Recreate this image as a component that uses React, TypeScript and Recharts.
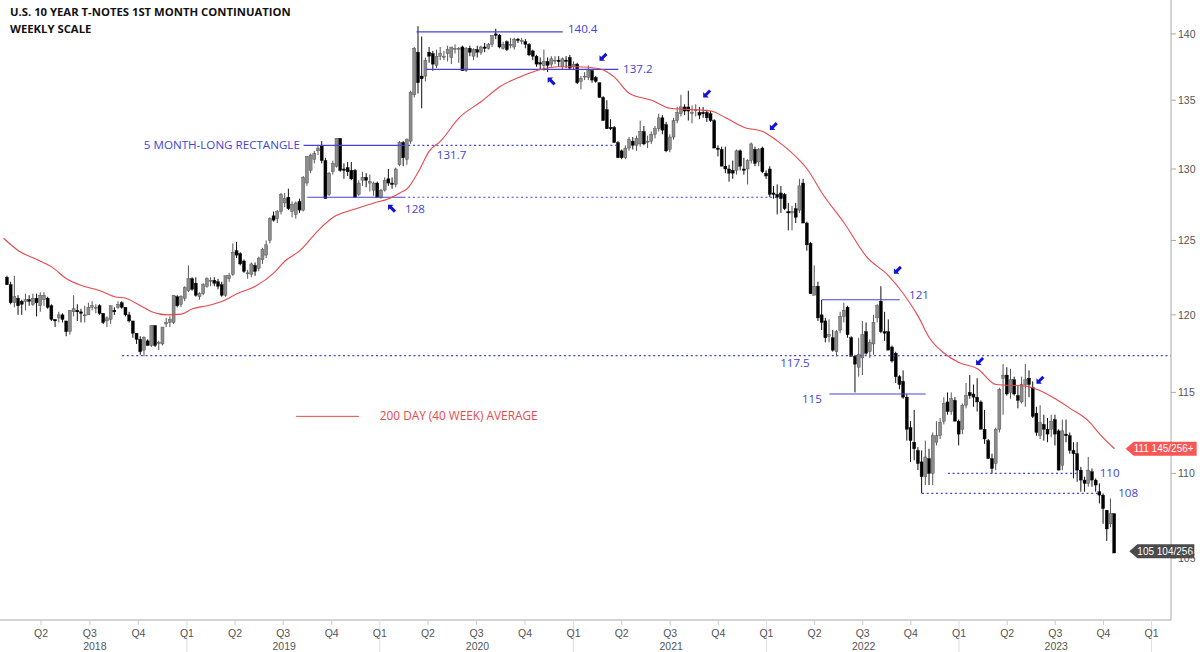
import { ComposedChart, Bar, Line, XAxis, YAxis, ReferenceLine, ReferenceDot } from 'recharts'

type Ohlc = [number, number, number, number] // open, high, low, close

// weekly candles
const candles2018: Ohlc[] = [
  [122.5, 122.6, 122.0, 122.0], [122.0, 122.2, 120.7, 120.8], [120.8, 122.6, 120.5, 121.2], [121.1, 121.3, 120.0, 120.6],
  [120.9, 121.0, 120.0, 120.7], [120.9, 121.4, 120.3, 121.0], [121.0, 121.3, 120.6, 120.9], [120.7, 121.4, 120.6, 121.1],
  [121.1, 121.4, 119.9, 120.8], [120.6, 121.5, 120.2, 121.3], [121.0, 121.5, 120.6, 121.3], [121.1, 121.2, 120.4, 120.5],
  [120.6, 120.7, 119.6, 119.7], [119.7, 119.7, 119.2, 119.6], [119.8, 120.2, 119.5, 120.0], [120.0, 120.1, 119.5, 119.7],
  [119.6, 119.6, 118.6, 118.9], [118.9, 120.3, 118.7, 120.3], [120.2, 121.3, 119.9, 120.4], [120.3, 120.7, 119.6, 120.2],
  [120.2, 120.4, 119.5, 120.1], [120.0, 120.6, 119.5, 120.0], [120.0, 120.8, 120.0, 120.5], [120.5, 120.9, 120.3, 120.6],
  [120.5, 120.7, 120.1, 120.5], [120.6, 120.7, 120.0, 120.1], [120.1, 120.1, 119.4, 119.5], [119.6, 119.9, 119.2, 119.8],
  [119.7, 120.6, 119.4, 120.6], [120.3, 120.5, 120.0, 120.2], [120.5, 120.9, 120.4, 120.7], [120.8, 120.9, 120.4, 120.5],
  [120.5, 120.5, 119.9, 120.0], [120.0, 120.2, 119.5, 119.6], [119.6, 119.6, 118.5, 118.8], [118.8, 118.8, 118.1, 118.4],
  [118.4, 118.6, 117.4, 117.6], [117.7, 118.6, 117.3, 118.5], [118.3, 118.4, 118.0, 118.0], [118.0, 119.3, 117.9, 119.3],
  [119.3, 119.3, 117.9, 118.0], [118.2, 118.3, 117.7, 118.2], [118.1, 119.2, 118.0, 119.2], [119.4, 119.8, 119.2, 119.5],
  [119.5, 119.9, 119.2, 119.7], [119.5, 121.3, 119.4, 121.3], [121.2, 121.3, 120.5, 120.6], [120.7, 121.3, 120.5, 121.2],
]
const candles2019: Ohlc[] = [
  [121.1, 121.9, 120.9, 121.8], [121.6, 123.3, 121.5, 122.4], [122.4, 122.5, 121.6, 121.7], [122.1, 122.5, 121.2, 121.3],
  [121.2, 121.5, 121.0, 121.4], [121.4, 122.1, 121.3, 122.0], [121.9, 122.5, 121.8, 122.4], [122.3, 122.5, 121.9, 122.3],
  [122.3, 122.5, 121.9, 122.1], [122.2, 122.4, 121.7, 121.9], [122.0, 122.2, 121.2, 121.3], [121.3, 122.6, 121.2, 122.6],
  [122.4, 122.8, 122.2, 122.6], [122.7, 124.8, 122.6, 124.2], [124.3, 124.9, 123.8, 124.0], [124.1, 124.2, 123.3, 123.4],
  [123.6, 123.7, 122.8, 122.9], [122.8, 123.0, 122.4, 122.8], [122.7, 123.5, 122.5, 123.4], [123.3, 123.5, 122.6, 122.9],
  [123.1, 123.9, 122.9, 123.8], [123.7, 124.5, 123.4, 124.4], [124.0, 125.0, 123.8, 124.7], [125.0, 126.6, 124.8, 126.5],
  [126.7, 127.0, 126.3, 126.4], [126.5, 127.1, 126.2, 127.0], [127.0, 128.3, 126.8, 128.2], [127.6, 128.3, 127.3, 127.9],
  [128.0, 128.6, 127.1, 127.2], [127.0, 127.7, 126.6, 127.5], [126.8, 127.7, 126.5, 127.6], [127.7, 127.9, 126.9, 127.1],
  [127.1, 129.5, 127.0, 129.4], [129.0, 130.9, 128.8, 130.9], [129.9, 131.1, 129.7, 131.0], [130.7, 131.3, 130.4, 131.1],
  [131.3, 131.7, 131.0, 131.5], [131.7, 132.0, 130.4, 130.6], [130.6, 130.8, 127.9, 127.9], [128.2, 129.8, 128.1, 129.7],
  [129.8, 130.6, 129.6, 130.4], [130.2, 132.2, 130.1, 132.2], [132.2, 132.2, 129.8, 129.9], [130.0, 130.4, 129.3, 129.9],
  [130.1, 130.5, 129.5, 129.8], [129.9, 130.5, 129.2, 129.3], [129.9, 130.0, 128.0, 128.0], [128.2, 129.2, 128.1, 129.0],
  [129.2, 129.8, 128.8, 129.4], [129.4, 129.7, 128.7, 129.2],
]
const candles2020: Ohlc[] = [
  [129.0, 129.6, 128.4, 129.1], [128.5, 129.1, 128.1, 129.0], [129.0, 129.1, 128.0, 128.0], [128.0, 128.6, 127.9, 128.5],
  [128.5, 129.4, 128.4, 129.2], [129.3, 130.0, 128.8, 129.0], [129.0, 129.4, 128.6, 128.9], [128.9, 130.1, 128.7, 130.0],
  [130.3, 132.0, 130.2, 131.9], [131.9, 132.0, 130.2, 130.8], [130.7, 132.2, 130.3, 132.1], [132.0, 135.7, 131.8, 135.6],
  [135.4, 139.0, 135.2, 138.9], [138.6, 140.6, 135.5, 136.3], [136.8, 139.8, 134.4, 136.6], [136.8, 138.2, 136.4, 138.0],
  [138.6, 139.0, 137.8, 138.3], [138.5, 138.7, 137.2, 137.7], [137.6, 138.8, 137.4, 138.3], [138.3, 139.0, 138.0, 138.5],
  [138.3, 138.7, 138.0, 138.3], [138.5, 139.1, 137.9, 138.8], [138.2, 139.0, 137.7, 139.0], [138.9, 139.2, 138.5, 138.9],
  [138.9, 139.0, 137.8, 138.9], [139.0, 139.1, 137.2, 137.2], [137.2, 139.0, 137.1, 138.9], [138.9, 139.1, 138.3, 138.6],
  [138.3, 138.9, 138.0, 138.8], [138.8, 139.1, 138.2, 138.6], [138.6, 139.1, 138.4, 139.0], [139.0, 139.3, 138.6, 138.9],
  [138.9, 139.3, 138.8, 139.2], [139.2, 139.9, 139.0, 139.9], [140.0, 140.4, 139.6, 139.9], [139.9, 140.0, 138.9, 139.0],
  [138.9, 139.4, 138.8, 139.2], [139.4, 139.5, 138.7, 138.8], [139.2, 139.7, 138.9, 139.2], [139.0, 139.7, 138.8, 139.6],
  [139.6, 139.7, 139.3, 139.5], [139.5, 139.7, 139.2, 139.5], [139.4, 139.6, 138.9, 139.2], [139.2, 139.3, 138.3, 138.4],
  [138.7, 138.8, 138.0, 138.3], [138.3, 138.4, 137.5, 137.7], [137.8, 138.2, 137.3, 137.7], [137.6, 138.8, 137.2, 137.9],
  [137.9, 138.2, 137.1, 137.6], [137.7, 138.3, 137.5, 138.1], [138.0, 138.3, 137.7, 138.0], [138.0, 138.3, 137.5, 137.9],
]
const candles2021: Ohlc[] = [
  [137.5, 138.2, 137.3, 138.1], [138.0, 138.3, 137.4, 137.9], [138.2, 138.4, 137.3, 137.4], [137.5, 137.9, 137.3, 137.7],
  [137.7, 137.8, 136.2, 136.3], [136.4, 136.8, 135.8, 136.6], [136.8, 137.1, 136.5, 136.8], [136.7, 137.6, 136.5, 137.2],
  [137.2, 137.3, 136.3, 136.5], [136.7, 136.8, 136.3, 136.4], [136.3, 136.3, 135.2, 135.2], [135.2, 135.3, 133.5, 133.5],
  [134.3, 135.0, 132.9, 132.9], [133.0, 133.6, 132.8, 132.9], [133.0, 133.1, 131.9, 131.9], [131.9, 132.0, 130.8, 130.8],
  [131.3, 131.4, 130.7, 130.8], [130.8, 131.7, 130.7, 131.5], [131.5, 132.3, 131.3, 132.1], [132.0, 132.3, 131.4, 131.7],
  [131.7, 132.4, 131.3, 132.2], [131.8, 133.5, 131.6, 132.7], [132.7, 133.1, 131.7, 131.8], [132.0, 132.4, 131.5, 132.0],
  [132.0, 132.7, 131.8, 132.5], [132.5, 133.1, 132.2, 132.9], [132.9, 134.0, 132.7, 133.7], [133.7, 133.9, 132.5, 132.8],
  [133.2, 133.4, 131.2, 131.3], [131.4, 132.5, 131.2, 132.3], [132.3, 133.7, 132.1, 133.5], [133.5, 134.5, 133.3, 134.1],
  [134.0, 135.4, 133.8, 134.5], [134.5, 134.7, 133.9, 134.2], [134.5, 135.7, 133.5, 134.2], [134.1, 134.6, 133.3, 134.1],
  [134.3, 134.7, 133.8, 134.3], [134.1, 134.5, 133.6, 133.9], [134.1, 134.5, 133.7, 134.0], [134.1, 134.3, 133.4, 133.7],
  [134.0, 134.2, 133.4, 133.5], [133.5, 133.6, 131.5, 131.5], [131.5, 131.7, 130.9, 131.4], [131.4, 131.6, 130.2, 130.2],
  [130.2, 131.6, 129.7, 130.0], [130.0, 130.3, 129.1, 129.7], [129.9, 130.6, 129.3, 129.7], [129.9, 131.4, 129.6, 131.3],
  [131.3, 131.4, 129.9, 130.2], [130.0, 130.8, 129.6, 129.9], [130.0, 130.7, 128.9, 130.6], [130.6, 131.9, 130.4, 131.8],
]
const candles2022: Ohlc[] = [
  [131.4, 131.6, 130.2, 130.4], [130.5, 131.5, 130.2, 131.4], [131.5, 131.6, 129.7, 129.8], [129.7, 129.9, 129.3, 129.5],
  [130.0, 130.2, 128.0, 128.2], [128.3, 128.8, 127.9, 128.2], [128.2, 128.9, 126.8, 128.0], [128.3, 128.8, 126.9, 127.9],
  [128.2, 128.3, 127.1, 127.2], [127.0, 127.6, 125.7, 126.9], [126.9, 127.4, 125.7, 127.0], [127.2, 127.6, 126.2, 126.6],
  [127.1, 129.3, 126.9, 128.8], [129.0, 129.3, 126.2, 126.2], [126.2, 126.3, 124.3, 124.7], [124.8, 124.9, 121.4, 121.4],
  [121.3, 123.3, 121.3, 121.9], [121.9, 122.2, 119.6, 119.8], [120.0, 121.0, 119.0, 119.5], [119.6, 119.8, 118.2, 118.5],
  [118.6, 119.7, 118.2, 118.7], [118.5, 119.0, 117.6, 117.7], [117.6, 119.0, 117.3, 118.9], [119.0, 120.2, 118.8, 119.9],
  [119.9, 120.8, 119.5, 120.3], [120.5, 120.6, 118.5, 118.7], [118.5, 118.6, 117.3, 117.3], [117.3, 117.4, 115.0, 116.8],
  [116.6, 118.5, 116.0, 117.4], [117.2, 119.6, 116.1, 118.7], [118.9, 119.5, 117.4, 117.5], [117.6, 118.4, 117.2, 118.2],
  [118.1, 120.0, 117.4, 119.5], [119.8, 120.7, 119.5, 120.6], [120.9, 121.9, 118.8, 118.9], [118.9, 120.2, 118.3, 118.8],
  [118.9, 119.7, 117.7, 117.7], [117.9, 118.0, 116.9, 117.0], [117.5, 117.6, 115.6, 116.0], [116.0, 116.1, 115.2, 115.5],
  [115.7, 116.4, 114.6, 114.7], [114.7, 114.9, 112.0, 112.7], [112.8, 113.2, 110.7, 112.0], [111.9, 113.9, 110.8, 111.5],
  [111.4, 111.6, 110.2, 110.6], [110.7, 111.4, 108.8, 109.8], [109.8, 112.0, 109.3, 111.0], [110.9, 111.5, 109.3, 110.0],
  [110.0, 112.5, 109.3, 112.3], [111.9, 113.2, 111.7, 112.3], [112.3, 113.4, 112.1, 113.1], [113.2, 114.7, 113.0, 114.3],
]
const candles2023: Ohlc[] = [
  [114.4, 115.0, 113.6, 113.8], [113.8, 115.0, 113.6, 114.6], [114.5, 114.7, 113.2, 113.2], [113.2, 113.3, 111.7, 112.4],
  [112.7, 114.3, 112.4, 114.2], [114.2, 115.6, 114.0, 114.8], [115.0, 116.1, 114.6, 114.8], [114.9, 115.5, 114.1, 114.7],
  [114.7, 115.9, 113.8, 114.4], [114.4, 114.5, 112.7, 112.7], [112.7, 113.9, 111.8, 112.1], [112.0, 112.1, 110.9, 110.9],
  [110.9, 111.2, 110.0, 110.3], [110.6, 112.8, 110.2, 112.7], [112.7, 115.3, 112.5, 115.2], [115.9, 116.8, 113.6, 116.1],
  [116.1, 116.6, 114.8, 114.9], [115.0, 116.5, 114.6, 115.8], [115.8, 116.0, 114.8, 114.9], [114.8, 115.4, 114.0, 114.5],
  [114.4, 116.0, 114.3, 115.5], [115.5, 116.8, 114.1, 115.8], [115.9, 116.4, 114.7, 115.5], [115.3, 115.7, 113.4, 113.5],
  [113.7, 114.1, 112.3, 112.5], [112.3, 114.2, 112.1, 113.1], [113.0, 113.6, 112.0, 112.7], [112.7, 113.4, 111.9, 112.4],
  [112.7, 113.6, 112.2, 113.2], [113.3, 113.6, 111.7, 112.4], [112.6, 112.7, 110.2, 110.2], [110.5, 113.3, 110.2, 112.6],
  [112.4, 113.3, 111.9, 112.3], [112.3, 112.5, 111.2, 111.4], [111.4, 111.9, 109.7, 111.2], [111.2, 111.9, 109.5, 110.2],
  [110.2, 110.4, 108.9, 109.6], [109.6, 109.8, 108.9, 109.4], [109.4, 111.0, 109.2, 110.2], [110.1, 110.3, 109.2, 109.6],
  [109.6, 109.7, 108.9, 109.3], [108.9, 109.4, 108.2, 108.7], [108.7, 108.8, 107.0, 107.9], [107.8, 107.8, 106.0, 106.7],
  [107.0, 108.5, 106.8, 107.6], [107.6, 107.6, 105.3, 105.3],
]

const maWeeks = [-1, 3, 8, 12, 16, 20, 25, 29, 32, 36, 39, 43, 47, 50, 54, 59, 62, 67, 72, 75, 79, 84, 88, 93, 99, 103, 106, 108, 111, 114, 117, 122, 128, 133, 139, 144, 149, 154, 160, 164, 168, 174, 179, 190, 194, 199, 204, 208, 214, 216, 220, 226, 232, 238, 242, 246, 249, 253, 257, 262, 267, 275, 278, 283, 287, 292, 295, 299]
const maValues = [125.15, 124.3, 123.7, 123.2, 122.4, 121.95, 121.6, 121.2, 121.1, 120.6, 120.2, 120.0, 120.05, 120.4, 120.6, 121.0, 121.4, 121.9, 122.8, 123.6, 124.3, 125.7, 126.6, 127.1, 127.6, 127.9, 128.3, 128.6, 129.8, 131.3, 132.0, 133.7, 134.9, 136.0, 136.8, 137.3, 137.5, 137.5, 137.35, 136.7, 135.5, 135.0, 134.4, 134.2, 133.7, 133.0, 132.7, 132.0, 130.6, 130.0, 128.3, 126.2, 123.9, 122.6, 121.4, 119.9, 118.5, 117.5, 116.9, 116.5, 115.5, 115.4, 115.2, 114.6, 114.0, 113.2, 112.4, 111.5]

const priceTicks = [105, 110, 115, 120, 125, 130, 135, 140]
const quarterWeeks = [9.1, 22.3, 35.4, 48.5, 61.5, 74.5, 87.6, 100.6, 113.6, 126.7, 139.8, 152.9, 165.9, 179, 192, 205, 218, 231, 244, 257, 270, 283, 296, 309]
const quarterLabels = ['Q2', 'Q3', 'Q4', 'Q1', 'Q2', 'Q3', 'Q4', 'Q1', 'Q2', 'Q3', 'Q4', 'Q1', 'Q2', 'Q3', 'Q4', 'Q1', 'Q2', 'Q3', 'Q4', 'Q1', 'Q2', 'Q3', 'Q4', 'Q1']
const yearLabels: Record<number, string> = { 1: '2018', 5: '2019', 9: '2020', 13: '2021', 17: '2022', 21: '2023' }

// [from week, to week, price]
const solidLines = [[110.5, 150, 140.15], [113, 165, 137.3], [80, 107, 131.7], [81, 107, 128], [220, 241, 121], [222, 248, 114.9]]
const dottedLines = [[107, 165, 131.7], [107, 208, 128], [31, 314.2, 117.35], [254, 289, 110], [247, 295, 108.8]]
const notes = [
  { text: '5 MONTH-LONG RECTANGLE', week: 79, price: 131.7, anchor: 'end' },
  { text: '140.4', week: 151.4, price: 140.4, anchor: 'start' },
  { text: '137.2', week: 166.3, price: 137.3, anchor: 'start' },
  { text: '131.7', week: 116, price: 131, anchor: 'start' },
  { text: '128', week: 107.4, price: 127.2, anchor: 'start' },
  { text: '121', week: 243.5, price: 121.3, anchor: 'start' },
  { text: '117.5', week: 208.7, price: 116.9, anchor: 'start' },
  { text: '115', week: 214.6, price: 114.6, anchor: 'start' },
  { text: '110', week: 295, price: 110.0, anchor: 'start' },
  { text: '108', week: 300, price: 108.85, anchor: 'start' },
]
const downArrows = [[161, 138.25], [189, 135.5], [207, 133.1], [240.5, 123], [262.7, 117], [279, 115.8]]
const upArrows = [[147, 136.4], [103.9, 127.2]]

const BLUE = '#4343dc'
const RED = '#e8474c'
const LABEL_FONT = '"Open Sans", sans-serif'
const AXIS_FONT = '"Liberation Sans", Arial, sans-serif'

const candles = [...candles2018, ...candles2019, ...candles2020, ...candles2021, ...candles2022, ...candles2023]
const table = candles.map(([open, high, low, close], week) => ({ week, open, high, low, close, range: [low, high] }))
const maTable = maWeeks.map((week, i) => ({ week, ma: maValues[i] }))

const Candle = (props: any) => {
  const { x, y, width, height, payload } = props
  const { open, high, low, close } = payload
  // bar spans low..high through the log scale, body is placed inside it
  const k = height / Math.log(high / low)
  const at = (p: number) => y + Math.log(high / p) * k
  const cx = x + width / 2
  const up = close >= open
  const top = at(Math.max(open, close))
  const h = Math.max(at(Math.min(open, close)) - top, 1)
  return (
    <g>
      <line x1={cx} x2={cx} y1={y} y2={y + height} stroke={up ? '#555' : '#111'} strokeWidth={1} />
      <rect x={cx - 1.5} y={top} width={3} height={h} fill={up ? '#8c8c8c' : '#000'} stroke={up ? '#444' : '#000'} strokeWidth={0.4} />
    </g>
  )
}

const QuarterTick = (props: any) => {
  const { x, index } = props
  const year = yearLabels[index]
  const isYearStart = quarterLabels[index] === 'Q1'
  return (
    <g fontFamily={AXIS_FONT} fontSize={10.5} fill="#555" textAnchor="middle">
      <line x1={x} x2={x} y1={620} y2={isYearStart ? 652 : 625} stroke={isYearStart ? '#ddd' : '#ccc'} />
      <text x={x} y={637}>{quarterLabels[index]}</text>
      {year && <text x={index === 1 ? x + 5 : x + 1} y={650}>{year}</text>}
    </g>
  )
}

const Arrow = ({ cx, cy, rotate }: any) => (
  <path
    transform={`translate(${cx} ${cy}) rotate(${rotate})`}
    d="M-4 -4 L1.5 -4 L-0.2 -2.3 L4 1.9 L1.9 4 L-2.3 -0.2 L-4 1.5 Z"
    fill="#1212d8"
  />
)

const PriceTag = ({ cx, cy, text, fill, width }: any) => (
  <g>
    <path d={`M${cx} ${cy} L${cx + 8} ${cy - 7} H${cx + width} V${cy + 7} H${cx + 8} Z`} fill={fill} />
    <text x={cx + 8} y={cy + 3.5} fontFamily={AXIS_FONT} fontSize={10} fill="#fff">{text}</text>
  </g>
)

export default function App() {
  return (
    <div style={{ position: 'absolute', left: 0, top: 0, width: 1200, height: 652, overflow: 'hidden', background: '#fff' }}>
      <ComposedChart width={1200} height={652} data={table} margin={{ top: 0, right: 0, bottom: 0, left: 0 }}>
        <XAxis
          dataKey="week"
          type="number"
          domain={[-1.97, 314.25]}
          allowDataOverflow
          ticks={quarterWeeks}
          interval={0}
          height={32}
          stroke="#aaa"
          tickLine={false}
          tick={<QuarterTick />}
        />
        <YAxis
          orientation="right"
          scale="log"
          domain={[101.5, 142.63]}
          allowDataOverflow
          ticks={priceTicks}
          interval={0}
          width={29}
          stroke="#aaa"
          tickSize={5}
          tick={{ fontFamily: AXIS_FONT, fontSize: 10.5, fill: '#555' }}
        />

        {dottedLines.map(([from, to, price]) => (
          <ReferenceLine key={`${from}-${price}`} segment={[{ x: from, y: price }, { x: to, y: price }]} stroke={BLUE} strokeDasharray="2 2.7" strokeWidth={1.2} ifOverflow="visible" />
        ))}
        {solidLines.map(([from, to, price]) => (
          <ReferenceLine key={`${from}-${price}`} segment={[{ x: from, y: price }, { x: to, y: price }]} stroke={BLUE} strokeWidth={1.2} ifOverflow="visible" />
        ))}
        <ReferenceLine segment={[{ x: 78, y: 113.5 }, { x: 95, y: 113.5 }]} stroke={RED} strokeWidth={1} ifOverflow="visible" />

        <Bar dataKey="range" barSize={3} shape={<Candle />} isAnimationActive={false} />
        <Line data={maTable} dataKey="ma" type="monotone" stroke={RED} strokeWidth={1.1} dot={false} activeDot={false} isAnimationActive={false} />

        {notes.map((n) => (
          <ReferenceDot
            key={n.text}
            x={n.week}
            y={n.price}
            r={0}
            ifOverflow="visible"
            shape={(p: any) => (
              <text x={p.cx} y={p.cy + 4} textAnchor={n.anchor as any} fontFamily={LABEL_FONT} fontSize={11.6} fill={BLUE}>{n.text}</text>
            )}
          />
        ))}
        <ReferenceDot
          x={100.6}
          y={113.5}
          r={0}
          ifOverflow="visible"
          shape={(p: any) => (
            <text x={p.cx} y={p.cy + 4} fontFamily={LABEL_FONT} fontSize={11.8} fill={RED}>200 DAY (40 WEEK) AVERAGE</text>
          )}
        />
        {downArrows.map(([week, price]) => (
          <ReferenceDot key={week} x={week} y={price} r={0} ifOverflow="visible" shape={(p: any) => <Arrow cx={p.cx} cy={p.cy} rotate={-90} />} />
        ))}
        {upArrows.map(([week, price]) => (
          <ReferenceDot key={week} x={week} y={price} r={0} ifOverflow="visible" shape={(p: any) => <Arrow cx={p.cx} cy={p.cy} rotate={0} />} />
        ))}
        <ReferenceDot x={302} y={111.5} r={0} ifOverflow="visible" shape={(p: any) => <PriceTag cx={p.cx} cy={p.cy} text="111 145/256+" fill="#f95656" width={71} />} />
        <ReferenceDot x={303} y={105.4} r={0} ifOverflow="visible" shape={(p: any) => <PriceTag cx={p.cx} cy={p.cy} text="105 104/256" fill="#4a4a4a" width={65} />} />
      </ComposedChart>
      <div style={{ position: 'absolute', left: 10, top: 3, fontFamily: LABEL_FONT, fontWeight: 700, fontSize: 11.3, lineHeight: '17px', color: '#111', whiteSpace: 'nowrap' }}>
        U.S. 10 YEAR T-NOTES 1ST MONTH CONTINUATION
        <br />
        WEEKLY SCALE
      </div>
    </div>
  )
}
